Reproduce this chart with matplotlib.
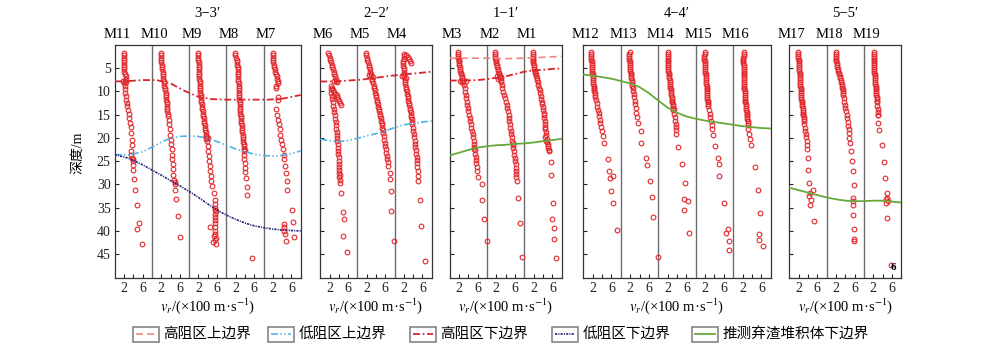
# -*- coding: utf-8 -*-
"""
Velocity profiles (vr vs depth) of the boreholes on sections 1-1' to 5-5',
with the interpreted resistivity boundaries and the base of the spoil pile.
"""

import matplotlib.pyplot as plt
from matplotlib.patches import Rectangle
from matplotlib.lines import Line2D

plt.rcParams['font.family'] = ['Liberation Serif', 'Noto Sans CJK SC']
plt.rcParams['mathtext.fontset'] = 'stix'
plt.rcParams['lines.scale_dashes'] = False

# ---------------- borehole data: depth (m) and vr (x100 m/s) ----------------
M11_depth = [1.8, 2.3, 2.8, 3.3, 3.8, 4.3, 4.8, 5.3, 5.8, 6.3, 6.8, 7.3, 7.8, 8.2, 7.9, 8.1,
             8.9, 9.6, 10.4, 11.1, 11.8, 12.5, 13.2, 14.1, 14.8, 15.7,
             16.8, 17.6, 18.9, 20.4, 21.6, 22.9, 23.6, 24.3, 24.6, 25.0,
             25.9, 26.9, 28.8, 31.2, 34.4, 38.2, 39.6, 42.9]
M11_vel = [1.9, 1.9, 1.9, 1.95, 2.0, 2.0, 2.0, 2.05, 2.1, 2.2, 2.35, 2.4, 2.3, 2.1, 1.7, 2.5,
           2.15, 2.2, 2.3, 2.4, 2.5, 2.6, 2.7, 2.9, 3.0, 3.1,
           3.3, 3.4, 3.6, 3.7, 3.8, 3.4, 3.6, 3.7, 3.9, 3.9,
           4.0, 3.9, 4.2, 4.4, 4.7, 5.3, 4.7, 5.8]

M10_depth = [1.8, 2.3, 2.8, 3.3, 3.8, 4.3, 4.8, 5.3, 5.8, 6.3, 6.8, 7.3, 7.8, 8.3, 8.8, 9.3,
             9.8, 10.3, 10.8, 11.3, 11.8, 12.3, 12.8, 13.3, 13.8, 14.3, 14.8, 15.3,
             16.1, 17.1, 18.2, 19.3, 20.4, 21.4, 22.5, 23.6, 24.6, 25.7,
             26.8, 27.9, 29.0, 29.5, 29.9, 31.1, 33.2, 36.8, 41.2]
M10_vel = [1.9, 1.95, 2.0, 2.0, 2.05, 2.1, 2.2, 2.2, 2.3, 2.35, 2.4, 2.45, 2.5, 2.6, 2.7, 2.8,
           2.9, 3.0, 3.0, 3.1, 3.1, 3.2, 3.2, 3.25, 3.3, 3.35, 3.4, 3.45,
           3.6, 3.7, 3.8, 3.9, 4.0, 4.2, 4.3, 4.35, 4.4, 4.45,
           4.5, 4.6, 4.8, 4.9, 5.0, 5.0, 5.2, 5.6, 6.05]

M9_depth = [1.8, 2.3, 2.8, 3.3, 3.8, 4.3, 4.8, 5.3, 5.8, 6.3, 6.8, 7.3, 7.8, 8.3, 8.8, 9.3,
            9.8, 10.3, 10.8, 11.3, 11.8, 12.3, 12.8, 13.3, 13.8, 14.3, 14.8, 15.3, 15.8,
            16.3, 16.8, 17.3, 17.8, 18.3, 18.8, 19.3, 19.8, 19.6, 20.0, 20.2,
            20.7, 21.8, 22.9, 23.9, 25.0, 26.1, 27.1, 28.1, 29.2, 30.3, 31.8, 33.4, 34.3,
            35.0, 35.4, 35.8, 36.3, 36.9, 37.6, 38.3, 39.1, 39.2, 40.0, 40.6, 41.1, 41.6,
            42.0, 42.4, 42.9]
M9_vel = [2.0, 2.0, 2.0, 2.0, 2.05, 2.05, 2.05, 2.1, 2.1, 2.15, 2.2, 2.2, 2.25, 2.3, 2.3, 2.35,
          2.4, 2.45, 2.5, 2.55, 2.6, 2.65, 2.7, 2.75, 2.85, 2.9, 3.0, 3.05, 3.1,
          3.2, 3.3, 3.35, 3.4, 3.5, 3.6, 3.7, 3.8, 3.6, 4.0, 3.7,
          3.9, 4.0, 4.1, 4.2, 4.3, 4.45, 4.5, 4.7, 4.8, 5.0, 5.3, 5.5, 5.5,
          5.6, 5.5, 5.7, 5.6, 5.6, 5.6, 5.6, 4.6, 5.5, 5.5, 5.6, 5.3, 5.7,
          5.6, 5.2, 5.7]

M8_depth = [1.8, 2.3, 2.8, 3.3, 3.8, 4.3, 4.8, 5.3, 5.8, 6.3, 6.8, 7.3, 7.8, 8.3, 8.8, 9.3,
            9.8, 10.3, 10.8, 11.3, 11.8, 12.3, 12.8, 13.3, 13.8, 14.3, 14.8, 15.3, 15.8,
            16.3, 16.8, 17.3, 17.8, 18.3, 18.8, 19.3, 19.8, 20.3, 20.8, 21.3, 21.8, 22.3,
            22.6, 22.9, 23.6, 24.6, 25.5, 26.4, 27.4, 28.6, 30.6, 32.3, 45.8]
M8_vel = [1.8, 1.9, 2.0, 2.2, 2.3, 2.4, 2.45, 2.5, 2.5, 2.55, 2.55, 2.6, 2.6, 2.65, 2.65, 2.7,
          2.7, 2.75, 2.75, 2.8, 2.8, 2.85, 2.85, 2.9, 2.95, 3.0, 3.05, 3.1, 3.15,
          3.2, 3.25, 3.3, 3.35, 3.4, 3.45, 3.5, 3.55, 3.6, 3.65, 3.7, 3.75, 3.8,
          4.0, 3.7, 3.7, 3.8, 3.95, 4.0, 4.1, 4.2, 4.4, 4.45, 5.5]

M7_depth = [1.8, 2.3, 2.8, 3.3, 3.8, 4.3, 4.8, 5.3, 5.8, 6.3, 6.8, 7.3, 7.8, 8.3, 8.9, 9.3,
            11.2, 11.8, 13.9, 15.0, 16.1, 17.1, 18.2, 19.3, 20.4, 21.4, 22.5,
            23.6, 24.6, 26.1, 27.5, 29.2, 31.2,
            35.6, 38.1, 38.6, 39.1, 40.0, 40.7, 41.3, 42.2]
M7_vel = [2.0, 2.0, 2.0, 2.05, 2.1, 2.2, 2.3, 2.4, 2.5, 2.7, 2.9, 3.0, 3.1, 3.1, 2.7, 2.6,
          3.1, 3.2, 2.7, 2.9, 3.1, 3.3, 3.45, 3.6, 3.75, 3.9, 4.1,
          4.4, 4.4, 4.6, 4.8, 5.0, 5.1,
          6.1, 6.3, 4.4, 4.4, 4.5, 4.6, 6.6, 4.8]

M6_depth = [1.8, 2.3, 2.8, 3.3, 3.8, 4.3, 4.8, 5.3, 5.8, 6.3, 6.8, 7.3, 7.8, 7.9, 8.0,
            8.9, 9.3, 9.7, 10.1, 10.5, 10.9, 11.3, 11.7, 12.1, 12.5, 12.9,
            9.6, 10.3, 11.0, 11.7, 12.4, 13.1, 13.8, 14.5, 15.2, 15.9, 16.6, 17.3, 18.0,
            18.7, 19.4, 20.1, 20.7,
            21.4, 22.1, 22.8, 23.5, 24.2, 24.9, 25.6, 26.3, 27.0, 27.5, 28.0, 28.5, 29.0,
            29.6, 31.9, 35.9, 37.4, 41.1, 44.6]
M6_vel = [1.6, 1.8, 2.0, 2.15, 2.3, 2.45, 2.6, 2.75, 2.9, 3.0, 3.2, 3.3, 3.4, 2.9, 3.7,
          2.2, 2.5, 2.7, 3.0, 3.2, 3.5, 3.7, 3.9, 4.1, 4.3, 4.5,
          2.3, 2.4, 2.5, 2.6, 2.7, 2.8, 2.9, 3.0, 3.1, 3.2, 3.3, 3.35, 3.4,
          3.5, 3.6, 3.65, 3.7,
          3.75, 3.8, 3.85, 3.9, 3.95, 4.0, 4.05, 4.1, 4.1, 4.1, 4.15, 4.1, 4.2,
          4.2, 4.4, 4.9, 5.0, 4.9, 5.7]

M5_depth = [1.8, 2.3, 2.8, 3.3, 3.8, 4.3, 4.8, 5.3, 5.8, 6.3, 6.8, 7.3, 7.8, 8.3, 8.8, 9.3,
            9.8, 10.3, 10.8, 11.3, 11.8, 12.3, 12.8, 13.3, 13.8, 14.3, 14.8, 15.3, 15.8,
            16.3, 16.8, 17.3, 17.8, 18.3, 6.5, 7.0,
            19.0, 19.7, 20.4, 21.1, 21.8, 22.5, 23.2, 23.9, 24.6, 25.3, 26.1,
            27.5, 28.9, 31.4, 35.8, 42.1]
M5_vel = [1.8, 1.9, 2.0, 2.15, 2.3, 2.4, 2.5, 2.65, 2.8, 2.9, 3.0, 3.1, 3.2, 3.35, 3.5, 3.6,
          3.75, 3.85, 3.95, 4.05, 4.15, 4.25, 4.4, 4.5, 4.6, 4.7, 4.8, 4.9, 5.0,
          5.1, 5.2, 5.3, 5.4, 5.5, 2.5, 3.3,
          5.6, 5.7, 5.8, 5.9, 6.0, 6.1, 6.2, 6.3, 6.4, 6.5, 6.6,
          7.0, 7.0, 7.3, 7.3, 7.8]

M4_depth = [2.0, 2.3, 2.7, 3.1, 3.5, 3.9,
            2.5, 3.0, 3.5, 4.0, 4.5, 5.0, 5.5, 6.0, 6.5, 7.0, 7.5, 8.0, 8.5, 9.0, 9.5,
            10.0, 10.5, 11.0, 11.5, 12.0, 12.5, 13.0, 13.5, 14.0, 14.5, 15.0, 15.5, 16.0,
            16.5, 17.0, 6.8, 7.2,
            17.8, 18.5, 19.2, 19.9, 20.6, 21.3, 22.0, 22.7, 23.4, 24.1, 24.8, 25.5, 26.2,
            27.1, 28.2, 29.3, 33.4, 38.9, 46.4]
M4_vel = [2.1, 2.4, 2.8, 3.1, 3.4, 3.6,
          2.1, 2.0, 1.9, 1.9, 1.9, 1.95, 2.0, 2.0, 2.05, 2.1, 2.15, 2.2, 2.3, 2.4, 2.5,
          2.6, 2.7, 2.8, 2.9, 3.0, 3.1, 3.2, 3.3, 3.4, 3.45, 3.5, 3.6, 3.7,
          3.75, 3.8, 1.6, 2.4,
          3.9, 4.0, 4.1, 4.2, 4.3, 4.4, 4.5, 4.6, 4.7, 4.8, 4.85, 4.9, 4.9,
          4.95, 5.0, 5.1, 5.55, 5.8, 6.6]

M3_depth = [1.6, 2.0, 2.4, 2.8, 3.2, 3.6, 4.0, 4.4, 4.8, 5.2, 5.6, 6.0, 6.4, 6.8, 7.2, 7.6,
            8.0, 7.8, 7.9, 8.1,
            8.7, 9.4, 10.1, 10.8, 11.5, 12.2, 12.9, 13.6, 14.3, 15.0,
            15.7, 16.4, 17.1, 17.8, 18.5, 19.2, 19.9, 20.6, 21.3, 22.0,
            22.3, 22.7, 23.4, 24.1, 24.8, 25.5, 26.2, 27.1, 28.4,
            30.0, 33.4, 37.5, 42.1]
M3_vel = [1.7, 1.75, 1.8, 1.85, 1.9, 1.95, 2.0, 2.05, 2.1, 2.2, 2.3, 2.4, 2.5, 2.6, 2.7, 2.8,
          2.9, 2.3, 3.4, 2.6,
          3.1, 3.2, 3.3, 3.4, 3.5, 3.6, 3.75, 3.85, 4.0, 4.1,
          4.25, 4.35, 4.5, 4.65, 4.8, 4.9, 5.0, 5.1, 5.2, 5.25,
          5.3, 5.35, 5.45, 5.55, 5.6, 5.7, 5.8, 5.9, 6.1,
          7.0, 7.0, 7.4, 7.9]

M2_depth = [1.6, 2.0, 2.4, 2.8, 3.2, 3.6, 4.0, 4.4, 4.8, 5.2, 5.6, 6.0, 6.4, 6.8, 7.2, 7.6,
            8.0, 6.8, 7.0, 7.3,
            8.7, 9.4, 10.1, 10.8, 11.5, 12.2, 12.9, 13.6, 14.3, 15.0,
            15.7, 16.4, 17.1, 17.8, 18.5, 19.2, 19.9, 20.6, 21.1, 21.5,
            22.2, 22.9, 23.6, 24.3, 25.0, 25.7, 26.4, 27.1, 27.8, 28.5, 29.2,
            32.9, 38.2, 45.7]
M2_vel = [1.65, 1.7, 1.75, 1.8, 1.85, 1.9, 2.0, 2.1, 2.2, 2.3, 2.4, 2.5, 2.6, 2.7, 2.8, 2.9,
          3.0, 2.2, 3.0, 2.4,
          3.1, 3.3, 3.5, 3.7, 3.9, 4.05, 4.2, 4.35, 4.5, 4.6,
          4.7, 4.8, 4.9, 5.0, 5.1, 5.2, 5.3, 5.4, 5.5, 5.55,
          5.65, 5.75, 5.85, 5.95, 6.0, 6.1, 6.15, 6.2, 6.25, 6.3, 6.35,
          6.6, 7.0, 7.4]

M1_depth = [1.6, 2.0, 2.4, 2.8, 3.2, 3.6, 4.0, 4.4, 4.8, 5.2, 5.6, 6.0, 6.4, 6.8, 7.2, 7.6,
            8.0,
            8.6, 9.2, 9.8, 10.4, 11.0, 11.6, 12.2, 12.8, 13.4, 14.0,
            14.6, 15.2, 15.8, 16.4, 17.0, 17.6, 18.2, 18.8, 19.4,
            19.8, 20.2, 20.6, 21.0, 21.4, 21.8, 22.2, 22.6, 22.9,
            25.2, 27.9, 33.9, 37.4, 39.3, 41.8, 45.8]
M1_vel = [1.8, 1.8, 1.8, 1.8, 1.85, 1.9, 1.95, 2.0, 2.05, 2.1, 2.2, 2.3, 2.4, 2.5, 2.6, 2.7,
          2.85,
          3.0, 3.1, 3.25, 3.4, 3.5, 3.65, 3.75, 3.85, 3.95, 4.0,
          4.1, 4.2, 4.3, 4.35, 4.4, 4.45, 4.5, 4.55, 4.6,
          4.5, 4.9, 4.6, 4.8, 5.0, 5.0, 5.1, 5.2, 5.3,
          5.6, 5.8, 6.2, 6.0, 6.3, 6.4, 6.7]

M12_depth = [1.6, 2.0, 2.4, 2.8, 3.2, 3.6, 4.0, 4.4, 4.8, 5.2, 5.6, 6.0, 6.4, 6.8, 7.2, 7.6,
             8.0, 8.4, 8.8, 9.2, 9.6, 10.0, 10.4, 10.8, 11.2,
             11.9, 12.6, 13.3, 14.0, 14.7, 15.4, 16.1, 16.8, 17.6, 18.5,
             19.6, 21.1, 24.5, 27.2, 28.2, 28.7, 31.5, 34.0, 39.9]
M12_vel = [1.7, 1.7, 1.7, 1.75, 1.75, 1.8, 1.8, 1.85, 1.85, 1.9, 1.9, 1.95, 2.0, 2.0, 2.05, 2.1,
           2.1, 2.15, 2.2, 2.25, 2.3, 2.35, 2.4, 2.5, 2.6,
           2.7, 2.85, 3.0, 3.1, 3.25, 3.4, 3.55, 3.65, 3.8, 3.95,
           4.15, 4.4, 5.3, 5.55, 6.4, 5.7, 6.0, 6.35, 7.1]

M13_depth = [1.6, 2.0, 2.4, 2.8, 3.2, 3.6, 4.0, 4.4, 4.8, 5.2, 5.6, 6.0, 6.4, 6.8, 7.2, 7.6,
             8.0, 8.4, 8.8, 9.2,
             9.9, 10.6, 11.3, 12.0, 12.8, 13.6, 14.6, 15.6, 16.8, 18.6,
             21.1, 24.3, 25.9, 29.3, 32.8, 37.1, 45.6]
M13_vel = [1.9, 1.85, 1.8, 1.8, 1.85, 1.9, 1.9, 1.95, 2.0, 2.0, 2.05, 2.1, 2.15, 2.2, 2.25, 2.3,
           2.4, 2.45, 2.5, 2.6,
           2.65, 2.75, 2.85, 3.0, 3.1, 3.2, 3.35, 3.5, 3.7, 4.3,
           4.3, 5.3, 5.7, 6.2, 6.7, 6.8, 7.95]

M14_depth = [1.6, 2.0, 2.4, 2.8, 3.2, 3.6, 4.0, 4.4, 4.8, 5.2, 5.6, 6.0, 6.4, 6.8, 7.2, 7.6,
             8.0, 8.4, 8.8, 9.2, 9.6, 10.0, 10.4, 10.8, 11.2, 11.6, 12.0, 12.4, 12.8, 13.2,
             13.6, 13.9, 14.1,
             14.9, 15.6, 16.3, 17.0, 17.7, 18.4, 19.2, 21.9, 25.6, 29.6, 33.2, 33.5, 35.6, 40.4]
M14_vel = [2.1, 2.05, 2.0, 2.0, 2.0, 2.0, 2.05, 2.05, 2.1, 2.1, 2.15, 2.2, 2.25, 2.3, 2.35, 2.4,
           2.45, 2.5, 2.55, 2.6, 2.65, 2.7, 2.75, 2.8, 2.85, 2.9, 2.95, 3.0, 3.05, 3.1,
           3.2, 3.3, 3.1,
           3.4, 3.5, 3.6, 3.7, 3.75, 3.8, 3.85, 4.3, 5.0, 5.7, 5.4, 6.4, 5.6, 6.5]

M15_depth = [1.6, 2.0, 2.4, 2.8, 3.2, 3.6, 4.0, 4.4, 4.8, 5.2, 5.6, 6.0, 6.4, 6.8, 7.2, 7.6,
             8.0, 8.4, 8.8, 9.2, 9.6, 10.0, 10.4, 10.8, 11.2, 11.6, 12.0, 12.4, 12.8, 13.2,
             14.0, 14.8, 15.6, 16.4, 17.3, 18.2, 19.5, 21.8,
             24.3, 25.7, 28.2, 33.9, 39.6, 40.4, 42.1, 44.2]
M15_vel = [1.9, 1.9, 1.85, 1.85, 1.85, 1.9, 1.9, 1.95, 1.95, 2.0, 2.0, 2.05, 2.1, 2.1, 2.15, 2.2,
           2.2, 2.25, 2.3, 2.3, 2.35, 2.4, 2.4, 2.45, 2.5, 2.5, 2.55, 2.6, 2.65, 2.7,
           2.85, 3.0, 3.1, 3.25, 3.4, 3.5, 3.6, 4.1,
           4.8, 4.9, 5.05, 6.1, 6.85, 6.4, 7.0, 7.2]

M16_depth = [1.6, 2.0, 2.4, 2.8, 3.2, 3.6, 4.0, 4.4, 4.8, 5.2, 5.6, 6.0, 6.4, 6.8, 7.2, 7.6,
             8.0, 8.4, 8.8, 9.2, 9.6, 10.0, 10.4, 10.8, 11.2, 11.6, 12.0, 12.4, 12.8, 13.2,
             13.6, 14.0, 14.4, 14.8, 15.2, 15.6, 16.0, 16.4, 16.8, 17.2,
             18.0, 19.1, 20.3, 21.6, 26.3, 31.1, 36.1, 40.7, 41.9, 43.3]
M16_vel = [2.2, 2.2, 2.2, 2.15, 2.15, 2.15, 2.15, 2.2, 2.2, 2.2, 2.2, 2.25, 2.25, 2.25, 2.3, 2.3,
           2.3, 2.35, 2.35, 2.4, 2.4, 2.45, 2.45, 2.5, 2.5, 2.55, 2.6, 2.6, 2.65, 2.7,
           2.75, 2.8, 2.85, 2.9, 2.95, 3.0, 3.0, 3.05, 3.1, 3.15,
           3.2, 3.4, 3.6, 3.8, 4.7, 5.25, 5.8, 5.6, 5.55, 6.4]

M17_depth = [1.6, 2.0, 2.4, 2.8, 3.2, 3.6, 4.0, 4.4, 4.8, 5.2, 5.6, 6.0, 6.4, 6.8, 7.2, 7.6,
             8.0, 8.4, 8.8, 9.2, 9.6, 10.0, 10.4, 10.8, 11.2, 11.6, 12.0, 12.4, 12.8, 13.2,
             13.6, 14.0, 14.4, 14.8, 15.2, 15.6, 16.0, 16.4,
             17.1, 17.8, 18.5, 19.2, 19.9, 20.7, 21.6, 22.5, 24.3, 27.0,
             29.6, 31.2, 31.8, 32.5, 33.4, 34.5, 37.8]
M17_vel = [1.9, 1.9, 1.95, 1.95, 2.0, 2.0, 2.05, 2.1, 2.1, 2.15, 2.15, 2.2, 2.2, 2.25, 2.25, 2.3,
           2.3, 2.35, 2.35, 2.4, 2.4, 2.45, 2.5, 2.55, 2.6, 2.6, 2.65, 2.7, 2.75, 2.8,
           2.85, 2.9, 2.95, 3.0, 3.0, 3.05, 3.1, 3.15,
           3.25, 3.3, 3.4, 3.5, 3.6, 3.7, 3.8, 3.85, 3.9, 4.05,
           4.3, 5.0, 4.5, 4.2, 4.6, 4.5, 5.2]

M18_depth = [1.6, 2.0, 2.4, 2.8, 3.2, 3.6, 4.0, 4.4, 4.8, 5.2, 5.6, 6.0, 6.4, 6.8, 7.2, 7.6,
             8.0, 8.4, 8.8, 9.2, 9.6, 10.0, 10.4, 10.8,
             11.5, 12.2, 12.9, 13.6, 14.3, 15.0, 15.8, 16.6, 17.4, 18.2,
             19.0, 20.0, 21.1, 22.9, 25.0, 27.1, 30.2, 32.9, 33.6, 34.4,
             36.5, 39.6, 41.7, 42.2]
M18_vel = [1.95, 1.95, 2.0, 2.0, 2.05, 2.1, 2.15, 2.2, 2.3, 2.4, 2.5, 2.6, 2.7, 2.8, 2.9, 3.0,
           3.1, 3.2, 3.3, 3.35, 3.45, 3.5, 3.55, 3.6,
           3.7, 3.8, 3.9, 4.0, 4.15, 4.3, 4.4, 4.5, 4.6, 4.7,
           4.75, 4.85, 5.05, 5.2, 5.4, 5.55, 5.95, 5.75, 5.7, 5.65,
           5.65, 5.95, 5.9, 5.9]

M19_depth = [1.6, 2.0, 2.4, 2.8, 3.2, 3.6, 4.0, 4.4, 4.8, 5.2, 5.6, 6.0, 6.4, 6.8, 7.2, 7.6,
             8.0, 8.4, 8.8, 9.2, 9.6, 10.0, 10.4, 10.8, 11.2, 11.6, 12.0, 12.4,
             13.1, 13.8, 14.5, 15.0, 15.2, 16.8, 18.4, 21.6, 25.2, 28.6,
             31.8, 32.9, 33.2, 33.5, 34.1, 37.3, 47.4]
M19_vel = [2.2, 2.2, 2.15, 2.1, 2.1, 2.1, 2.1, 2.15, 2.15, 2.2, 2.2, 2.25, 2.3, 2.3, 2.35, 2.4,
           2.4, 2.45, 2.5, 2.5, 2.55, 2.6, 2.6, 2.65, 2.7, 2.75, 2.8, 2.8,
           2.85, 2.9, 2.9, 2.9, 2.95, 3.1, 3.3, 3.8, 4.2, 4.6,
           4.9, 5.0, 4.7, 5.1, 4.8, 4.9, 5.9]

# ---------------- interpreted boundaries (x along section, depth m) ----------------
hi_bot_33_x = [0, 3, 6, 9, 12, 15, 18, 21, 24, 27, 30, 33, 36, 38, 40]
hi_bot_33_d = [7.9, 7.8, 7.6, 7.6, 8.3, 9.9, 11.2, 11.7, 11.8, 11.8, 11.8, 11.8, 11.6, 11.2, 10.8]
lo_top_33_x = [0, 3, 6, 8, 10, 12, 14, 16, 18, 20, 22, 24, 26, 28, 30, 32, 34, 36, 38, 40]
lo_top_33_d = [23.6, 23.7, 23.0, 22.0, 20.9, 20.1, 19.7, 19.6, 19.7, 20.1, 20.8, 21.6, 22.4,
               23.0, 23.5, 23.8, 23.9, 23.8, 23.4, 22.8]
lo_bot_33_x = [0, 3, 6, 8, 10, 12, 14, 16, 18, 20, 22, 24, 26, 28, 30, 32, 34, 36, 38, 40]
lo_bot_33_d = [23.6, 24.4, 25.8, 26.9, 28.0, 29.2, 30.3, 31.5, 32.8, 34.2, 35.5, 36.6, 37.5,
               38.3, 38.9, 39.3, 39.6, 39.8, 39.9, 40.0]

hi_bot_22_x = [0, 3, 6, 9, 12, 15, 18, 21, 24]
hi_bot_22_d = [7.9, 7.9, 7.7, 7.5, 7.1, 6.7, 6.4, 6.1, 5.8]
lo_top_22_x = [0, 2, 4, 6, 8, 10, 12, 14, 16, 18, 20, 22, 24]
lo_top_22_d = [20.3, 20.6, 20.8, 20.6, 20.1, 19.6, 19.1, 18.5, 17.8, 17.2, 16.9, 16.6, 16.4]

hi_top_11_x = [0, 4, 8, 12, 16, 20, 24]
hi_top_11_d = [2.9, 2.9, 2.9, 3.0, 2.9, 2.7, 2.5]
hi_bot_11_x = [0, 3, 6, 8, 10, 12, 14, 16, 18, 20, 22, 24]
hi_bot_11_d = [7.7, 7.7, 7.6, 7.4, 7.1, 6.8, 6.3, 5.8, 5.5, 5.4, 5.2, 5.1]
spoil_11_x = [0, 2, 4, 6, 8, 10, 12, 14, 16, 18, 20, 22, 24]
spoil_11_d = [23.8, 23.2, 22.6, 22.1, 21.8, 21.6, 21.5, 21.3, 21.2, 21.0, 20.7, 20.5, 20.2]

spoil_44_x = [0, 3, 6, 8, 10, 12, 14, 16, 18, 20, 22, 24, 26, 28, 30, 32, 34, 36, 38, 40]
spoil_44_d = [6.4, 6.8, 7.3, 7.8, 8.3, 9.1, 10.4, 12.0, 13.5, 14.6, 15.4, 15.9, 16.3, 16.6,
              16.9, 17.2, 17.5, 17.7, 17.9, 18.0]

spoil_55_x = [0, 3, 6, 8, 10, 12, 14, 16, 18, 20, 22, 24]
spoil_55_d = [30.7, 31.5, 32.3, 32.8, 33.2, 33.5, 33.6, 33.6, 33.5, 33.5, 33.7, 33.9]

legend_labels = ['高阻区上边界', '低阻区上边界', '高阻区下边界', '低阻区下边界', '推测弃渣堆积体下边界']

wells = {
    'M11': (M11_depth, M11_vel), 'M10': (M10_depth, M10_vel), 'M9': (M9_depth, M9_vel),
    'M8': (M8_depth, M8_vel), 'M7': (M7_depth, M7_vel),
    'M6': (M6_depth, M6_vel), 'M5': (M5_depth, M5_vel), 'M4': (M4_depth, M4_vel),
    'M3': (M3_depth, M3_vel), 'M2': (M2_depth, M2_vel), 'M1': (M1_depth, M1_vel),
    'M12': (M12_depth, M12_vel), 'M13': (M13_depth, M13_vel), 'M14': (M14_depth, M14_vel),
    'M15': (M15_depth, M15_vel), 'M16': (M16_depth, M16_vel),
    'M17': (M17_depth, M17_vel), 'M18': (M18_depth, M18_vel), 'M19': (M19_depth, M19_vel),
}

# line styles of the boundaries
styles = {
    'hi_top': dict(color='#ef8686', lw=1.2, dashes=(5, 3)),
    'lo_top': dict(color='#4fb3e3', lw=1.2, dashes=(5, 1.8, 1, 1.8, 1, 1.8)),
    'hi_bot': dict(color='#d8242a', lw=1.3, dashes=(5, 2, 1.2, 2)),
    'lo_bot': dict(color='#25237a', lw=1.2, dashes=(1.6, 0.8, 0.8, 0.8)),
    'spoil': dict(color='#67a83a', lw=1.3),
}
style_order = ['hi_top', 'lo_top', 'hi_bot', 'lo_bot', 'spoil']

sections = [
    ("3−3′", ['M11', 'M10', 'M9', 'M8', 'M7'], 114.7, 300.7,
     [('hi_bot', hi_bot_33_x, hi_bot_33_d), ('lo_top', lo_top_33_x, lo_top_33_d),
      ('lo_bot', lo_bot_33_x, lo_bot_33_d)]),
    ("2−2′", ['M6', 'M5', 'M4'], 320.3, 431.7,
     [('hi_bot', hi_bot_22_x, hi_bot_22_d), ('lo_top', lo_top_22_x, lo_top_22_d)]),
    ("1−1′", ['M3', 'M2', 'M1'], 449.7, 561.7,
     [('hi_top', hi_top_11_x, hi_top_11_d), ('hi_bot', hi_bot_11_x, hi_bot_11_d),
      ('spoil', spoil_11_x, spoil_11_d)]),
    ("4−4′", ['M12', 'M13', 'M14', 'M15', 'M16'], 583.3, 770.7,
     [('spoil', spoil_44_x, spoil_44_d)]),
    ("5−5′", ['M17', 'M18', 'M19'], 789.3, 901.3,
     [('spoil', spoil_55_x, spoil_55_d)]),
]

W, H = 1000, 348
fig = plt.figure(figsize=(W / 100, H / 100), dpi=100)
top_px, bot_px = 44.7, 277.5
pt_color = '#e3282d'

for k, (title, names, left, right, bounds) in enumerate(sections):
    ax = fig.add_axes([left / W, (H - bot_px) / H, (right - left) / W, (bot_px - top_px) / H])
    n = len(names)
    for i, name in enumerate(names):
        d, v = wells[name]
        ax.plot([8 * i + x for x in v], d, 'o', ms=3.4, mfc='none', mec=pt_color, mew=0.8)
        if i > 0:
            ax.axvline(8 * i, color='#6b6b6b', lw=1.0, zorder=1)
        ax.text(8 * i + 0.5, 1.043, name, transform=ax.get_xaxis_transform(),
                ha='center', va='center', fontsize=10.5)
    for key, bx, bd in bounds:
        ax.plot(bx, bd, **styles[key], zorder=3)
    ax.text(0.5, 1.134, title, transform=ax.transAxes, ha='center', va='center', fontsize=10.5)

    ax.set_xlim(0, 8 * n)
    ax.set_ylim(50, 0)
    xt, xl = [], []
    for i in range(n):
        xt += [8 * i + 2, 8 * i + 4, 8 * i + 6]
        xl += ['2', '', '6']
    ax.set_xticks(xt)
    ax.set_xticklabels(xl)
    ax.set_yticks(range(5, 50, 5))
    if k > 0:
        ax.set_yticklabels([])
    ax.tick_params(direction='in', length=3, width=0.8, labelsize=10, pad=3, colors='#222222')
    for s in ax.spines.values():
        s.set_color('#333333')
        s.set_linewidth(0.9)
    ax.set_xlabel(r'$v_r$/(×100 m·s$^{-1}$)', fontsize=10.5, labelpad=1)

    if k == 4:
        ax.text(22.2, 47.8, '6', ha='center', va='center', fontsize=8, fontweight='bold')

fig.text(77.5 / W, 1 - 153 / H, '深度/m', rotation=90, ha='center', va='center', fontsize=10)

# legend drawn as framed line samples
leg_left = [132.7, 268, 410, 552, 692]
leg_y = 334
for xl0, key, label in zip(leg_left, style_order, legend_labels):
    fig.add_artist(Rectangle((xl0 / W, (H - leg_y - 7.5) / H), 26 / W, 15 / H,
                             transform=fig.transFigure, fill=False,
                             edgecolor='#7a7a7a', lw=1.1))
    fig.add_artist(Line2D([(xl0 + 3) / W, (xl0 + 23) / W], [(H - leg_y) / H] * 2,
                          transform=fig.transFigure, **styles[key]))
    fig.text((xl0 + 30.5) / W, (H - leg_y) / H, label, ha='left', va='center', fontsize=10.5)

fig.savefig('out.png', dpi=100)
